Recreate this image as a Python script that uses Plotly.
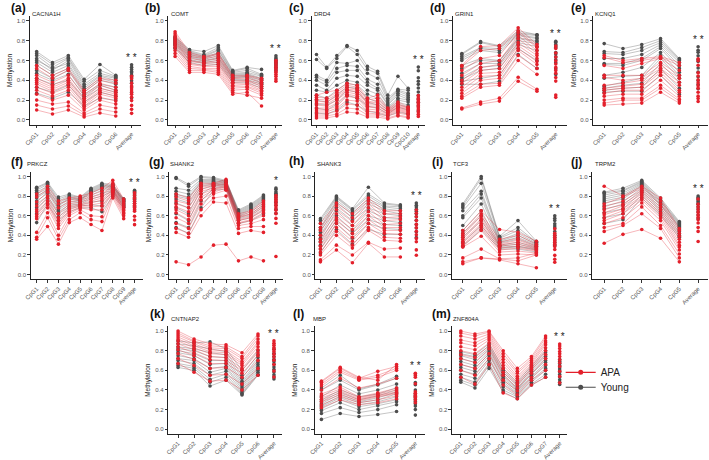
import plotly.graph_objects as go
import numpy as np

W, H = 709, 460

genes = ["CACNA1H", "COMT", "DRD4", "GRIN1", "KCNQ1", "PRKCZ", "SHANK2",
         "SHANK3", "TCF3", "TRPM2", "CNTNAP2", "MBP", "ZNF804A"]
letters = ["(a)", "(b)", "(c)", "(d)", "(e)", "(f)", "(g)", "(h)", "(i)",
           "(j)", "(k)", "(l)", "(m)"]
sig_marks = ["* *", "* *", "* *", "* *", "* *", "* *", "*", "* *", "* *",
             "* *", "* *", "* *", "* *"]
groups = ["APA", "Young"]

# ---------------- data (methylation per sample across CpG sites) ----------------
cacna1h_young = [
    [0.69, 0.58, 0.65, 0.41, 0.56, 0.45], [0.67, 0.56, 0.63, 0.39, 0.50, 0.44],
    [0.65, 0.53, 0.62, 0.36, 0.47, 0.43], [0.62, 0.50, 0.60, 0.34, 0.45, 0.42],
    [0.60, 0.52, 0.57, 0.32, 0.44, 0.40], [0.58, 0.48, 0.55, 0.30, 0.42, 0.38],
    [0.55, 0.45, 0.52, 0.28, 0.40, 0.36], [0.50, 0.42, 0.50, 0.26, 0.36, 0.33],
    [0.47, 0.40, 0.46, 0.24, 0.35, 0.30], [0.42, 0.36, 0.40, 0.22, 0.32, 0.28],
    [0.33, 0.28, 0.35, 0.18, 0.28, 0.24], [0.27, 0.22, 0.28, 0.14, 0.22, 0.20]]
cacna1h_apa = [
    [0.55, 0.45, 0.52, 0.30, 0.42, 0.40], [0.52, 0.42, 0.50, 0.28, 0.40, 0.37],
    [0.45, 0.38, 0.45, 0.25, 0.37, 0.33], [0.42, 0.35, 0.42, 0.22, 0.35, 0.30],
    [0.40, 0.33, 0.40, 0.20, 0.32, 0.28], [0.38, 0.31, 0.38, 0.18, 0.30, 0.26],
    [0.36, 0.29, 0.36, 0.16, 0.28, 0.24], [0.33, 0.27, 0.33, 0.14, 0.26, 0.22],
    [0.30, 0.24, 0.30, 0.12, 0.23, 0.19], [0.26, 0.20, 0.25, 0.10, 0.20, 0.16],
    [0.20, 0.16, 0.18, 0.07, 0.15, 0.12], [0.15, 0.11, 0.14, 0.05, 0.11, 0.08],
    [0.10, 0.06, 0.10, 0.03, 0.07, 0.04]]

comt_young = [
    [0.84, 0.71, 0.69, 0.75, 0.50, 0.53, 0.51], [0.83, 0.70, 0.66, 0.73, 0.49, 0.52, 0.46],
    [0.82, 0.69, 0.65, 0.71, 0.48, 0.50, 0.45], [0.81, 0.68, 0.64, 0.70, 0.47, 0.48, 0.44],
    [0.80, 0.67, 0.63, 0.68, 0.46, 0.47, 0.42], [0.79, 0.66, 0.62, 0.67, 0.45, 0.46, 0.41],
    [0.78, 0.65, 0.61, 0.65, 0.44, 0.45, 0.40], [0.77, 0.64, 0.60, 0.63, 0.43, 0.44, 0.38],
    [0.76, 0.63, 0.59, 0.62, 0.42, 0.43, 0.37], [0.75, 0.61, 0.58, 0.60, 0.41, 0.41, 0.36],
    [0.73, 0.60, 0.57, 0.58, 0.40, 0.40, 0.34], [0.72, 0.58, 0.55, 0.56, 0.38, 0.38, 0.32]]
comt_apa = [
    [0.89, 0.68, 0.64, 0.67, 0.45, 0.45, 0.42], [0.87, 0.66, 0.63, 0.66, 0.43, 0.44, 0.40],
    [0.85, 0.64, 0.62, 0.64, 0.42, 0.42, 0.38], [0.83, 0.62, 0.60, 0.62, 0.40, 0.40, 0.36],
    [0.81, 0.60, 0.58, 0.60, 0.38, 0.39, 0.34], [0.79, 0.59, 0.57, 0.58, 0.37, 0.37, 0.32],
    [0.77, 0.57, 0.55, 0.56, 0.35, 0.36, 0.30], [0.75, 0.56, 0.54, 0.54, 0.34, 0.34, 0.29],
    [0.73, 0.54, 0.52, 0.52, 0.32, 0.33, 0.27], [0.70, 0.52, 0.51, 0.50, 0.30, 0.31, 0.25],
    [0.67, 0.50, 0.50, 0.48, 0.28, 0.25, 0.22], [0.64, 0.48, 0.48, 0.46, 0.26, 0.28, 0.14]]

drd4_young = [
    [0.66, 0.53, 0.65, 0.75, 0.70, 0.54, 0.49, 0.25, 0.44, 0.32],
    [0.61, 0.52, 0.62, 0.74, 0.66, 0.51, 0.47, 0.22, 0.31, 0.30],
    [0.45, 0.40, 0.58, 0.57, 0.60, 0.47, 0.42, 0.20, 0.30, 0.27],
    [0.43, 0.38, 0.52, 0.55, 0.54, 0.41, 0.36, 0.18, 0.29, 0.25],
    [0.40, 0.35, 0.48, 0.50, 0.50, 0.38, 0.32, 0.16, 0.27, 0.23],
    [0.35, 0.30, 0.42, 0.45, 0.44, 0.35, 0.30, 0.15, 0.25, 0.21],
    [0.30, 0.28, 0.35, 0.40, 0.38, 0.30, 0.26, 0.13, 0.22, 0.20],
    [0.25, 0.22, 0.30, 0.37, 0.35, 0.26, 0.22, 0.12, 0.20, 0.18],
    [0.20, 0.18, 0.25, 0.33, 0.32, 0.22, 0.18, 0.10, 0.18, 0.15],
    [0.16, 0.15, 0.20, 0.30, 0.28, 0.18, 0.15, 0.08, 0.16, 0.13],
    [0.12, 0.10, 0.16, 0.25, 0.22, 0.14, 0.12, 0.06, 0.13, 0.10],
    [0.07, 0.06, 0.10, 0.18, 0.15, 0.09, 0.07, 0.04, 0.08, 0.06]]
drd4_apa = [
    [0.25, 0.28, 0.30, 0.37, 0.35, 0.22, 0.25, 0.12, 0.18, 0.13],
    [0.23, 0.22, 0.28, 0.35, 0.33, 0.20, 0.22, 0.11, 0.16, 0.12],
    [0.21, 0.20, 0.26, 0.33, 0.31, 0.18, 0.20, 0.10, 0.15, 0.12],
    [0.19, 0.18, 0.24, 0.31, 0.30, 0.17, 0.18, 0.09, 0.14, 0.11],
    [0.17, 0.16, 0.22, 0.30, 0.28, 0.16, 0.16, 0.08, 0.13, 0.10],
    [0.15, 0.14, 0.20, 0.28, 0.26, 0.14, 0.14, 0.08, 0.12, 0.09],
    [0.12, 0.12, 0.17, 0.26, 0.24, 0.13, 0.12, 0.07, 0.11, 0.08],
    [0.10, 0.10, 0.14, 0.24, 0.22, 0.11, 0.10, 0.06, 0.10, 0.07],
    [0.08, 0.08, 0.12, 0.20, 0.19, 0.09, 0.08, 0.05, 0.09, 0.06],
    [0.06, 0.06, 0.09, 0.16, 0.15, 0.07, 0.06, 0.04, 0.07, 0.05],
    [0.04, 0.04, 0.06, 0.12, 0.11, 0.05, 0.05, 0.02, 0.05, 0.03],
    [0.02, 0.02, 0.04, 0.08, 0.07, 0.03, 0.03, 0.01, 0.04, 0.02]]

grin1_young = [
    [0.67, 0.79, 0.75, 0.90, 0.86], [0.66, 0.78, 0.74, 0.88, 0.86], [0.64, 0.73, 0.72, 0.87, 0.85],
    [0.62, 0.72, 0.70, 0.86, 0.83], [0.60, 0.70, 0.68, 0.85, 0.82], [0.55, 0.62, 0.60, 0.83, 0.80],
    [0.52, 0.60, 0.59, 0.82, 0.79], [0.47, 0.57, 0.57, 0.80, 0.77], [0.43, 0.53, 0.55, 0.78, 0.74],
    [0.41, 0.50, 0.52, 0.76, 0.70], [0.39, 0.42, 0.45, 0.72, 0.60], [0.36, 0.36, 0.39, 0.66, 0.52]]
grin1_apa = [
    [0.55, 0.74, 0.75, 0.93, 0.76], [0.54, 0.70, 0.72, 0.90, 0.74], [0.50, 0.62, 0.65, 0.88, 0.73],
    [0.45, 0.57, 0.60, 0.85, 0.70], [0.40, 0.53, 0.56, 0.82, 0.67], [0.37, 0.50, 0.52, 0.78, 0.65],
    [0.33, 0.47, 0.48, 0.75, 0.62], [0.30, 0.44, 0.45, 0.72, 0.59], [0.27, 0.40, 0.42, 0.70, 0.56],
    [0.24, 0.36, 0.37, 0.65, 0.52], [0.22, 0.33, 0.35, 0.60, 0.46], [0.12, 0.18, 0.22, 0.43, 0.31],
    [0.11, 0.16, 0.19, 0.39, 0.29]]

kcnq1_young = [
    [0.77, 0.72, 0.76, 0.82, 0.62], [0.69, 0.68, 0.73, 0.80, 0.61], [0.67, 0.66, 0.70, 0.78, 0.60],
    [0.62, 0.62, 0.66, 0.76, 0.58], [0.57, 0.57, 0.62, 0.74, 0.55], [0.56, 0.55, 0.60, 0.72, 0.52],
    [0.45, 0.48, 0.53, 0.68, 0.48], [0.42, 0.44, 0.45, 0.65, 0.45], [0.34, 0.38, 0.42, 0.62, 0.42],
    [0.32, 0.35, 0.37, 0.57, 0.38], [0.30, 0.32, 0.33, 0.52, 0.32], [0.28, 0.29, 0.29, 0.45, 0.26]]
kcnq1_apa = [
    [0.65, 0.60, 0.62, 0.64, 0.58], [0.63, 0.58, 0.60, 0.63, 0.55], [0.55, 0.52, 0.57, 0.62, 0.50],
    [0.45, 0.45, 0.45, 0.58, 0.45], [0.43, 0.40, 0.42, 0.55, 0.42], [0.35, 0.37, 0.40, 0.52, 0.38],
    [0.32, 0.34, 0.36, 0.50, 0.35], [0.30, 0.32, 0.33, 0.48, 0.30], [0.27, 0.30, 0.30, 0.45, 0.28],
    [0.24, 0.26, 0.26, 0.40, 0.24], [0.20, 0.22, 0.22, 0.35, 0.21], [0.17, 0.20, 0.20, 0.32, 0.19],
    [0.15, 0.16, 0.17, 0.28, 0.17]]

prkcz_young = [
    [0.89, 0.94, 0.79, 0.82, 0.79, 0.88, 0.93, 0.92, 0.77],
    [0.88, 0.93, 0.77, 0.81, 0.78, 0.87, 0.92, 0.91, 0.77],
    [0.86, 0.92, 0.75, 0.80, 0.77, 0.86, 0.91, 0.90, 0.76],
    [0.84, 0.90, 0.73, 0.79, 0.76, 0.85, 0.90, 0.90, 0.75],
    [0.82, 0.88, 0.71, 0.78, 0.76, 0.84, 0.89, 0.89, 0.75],
    [0.80, 0.86, 0.70, 0.77, 0.75, 0.83, 0.88, 0.88, 0.74],
    [0.78, 0.85, 0.68, 0.75, 0.74, 0.81, 0.86, 0.87, 0.73],
    [0.75, 0.83, 0.66, 0.73, 0.73, 0.79, 0.83, 0.86, 0.72],
    [0.72, 0.80, 0.64, 0.71, 0.72, 0.77, 0.80, 0.85, 0.71],
    [0.68, 0.78, 0.62, 0.69, 0.71, 0.74, 0.75, 0.84, 0.70],
    [0.62, 0.75, 0.59, 0.67, 0.70, 0.71, 0.70, 0.82, 0.69],
    [0.53, 0.72, 0.55, 0.64, 0.68, 0.68, 0.64, 0.80, 0.68]]
prkcz_apa = [
    [0.82, 0.90, 0.75, 0.78, 0.80, 0.83, 0.88, 0.96, 0.77],
    [0.79, 0.87, 0.72, 0.76, 0.78, 0.81, 0.85, 0.93, 0.75],
    [0.74, 0.84, 0.68, 0.74, 0.76, 0.79, 0.82, 0.91, 0.73],
    [0.70, 0.80, 0.62, 0.72, 0.74, 0.77, 0.80, 0.90, 0.71],
    [0.66, 0.78, 0.58, 0.70, 0.72, 0.75, 0.78, 0.88, 0.69],
    [0.64, 0.75, 0.55, 0.68, 0.71, 0.73, 0.76, 0.87, 0.68],
    [0.61, 0.73, 0.52, 0.66, 0.70, 0.71, 0.73, 0.86, 0.66],
    [0.59, 0.71, 0.50, 0.64, 0.69, 0.69, 0.70, 0.85, 0.65],
    [0.57, 0.68, 0.47, 0.62, 0.68, 0.66, 0.66, 0.84, 0.63],
    [0.43, 0.63, 0.40, 0.60, 0.66, 0.60, 0.59, 0.82, 0.62],
    [0.38, 0.58, 0.36, 0.56, 0.63, 0.56, 0.54, 0.80, 0.60],
    [0.36, 0.49, 0.31, 0.53, 0.58, 0.51, 0.45, 0.78, 0.57]]

shank2_young = [
    [0.99, 0.92, 1.00, 0.99, 0.96, 0.66, 0.72, 0.81],
    [0.98, 0.90, 0.99, 0.98, 0.95, 0.65, 0.71, 0.80],
    [0.88, 0.86, 0.97, 0.97, 0.95, 0.64, 0.70, 0.79],
    [0.85, 0.82, 0.96, 0.96, 0.94, 0.63, 0.69, 0.78],
    [0.82, 0.79, 0.95, 0.95, 0.94, 0.62, 0.68, 0.77],
    [0.80, 0.77, 0.94, 0.94, 0.93, 0.61, 0.67, 0.76],
    [0.77, 0.73, 0.92, 0.93, 0.92, 0.60, 0.66, 0.75],
    [0.73, 0.68, 0.90, 0.92, 0.92, 0.59, 0.64, 0.73],
    [0.68, 0.62, 0.87, 0.91, 0.91, 0.58, 0.62, 0.71],
    [0.62, 0.55, 0.82, 0.90, 0.90, 0.57, 0.60, 0.69],
    [0.53, 0.48, 0.75, 0.88, 0.89, 0.55, 0.58, 0.66],
    [0.48, 0.42, 0.68, 0.86, 0.87, 0.52, 0.55, 0.62]]
shank2_apa = [
    [0.82, 0.78, 0.93, 0.93, 0.97, 0.62, 0.65, 0.75],
    [0.79, 0.75, 0.91, 0.92, 0.95, 0.60, 0.64, 0.73],
    [0.75, 0.72, 0.89, 0.91, 0.93, 0.59, 0.62, 0.71],
    [0.72, 0.68, 0.87, 0.90, 0.92, 0.58, 0.61, 0.69],
    [0.69, 0.64, 0.85, 0.88, 0.91, 0.56, 0.59, 0.67],
    [0.66, 0.60, 0.82, 0.87, 0.90, 0.55, 0.58, 0.65],
    [0.63, 0.56, 0.79, 0.86, 0.89, 0.53, 0.56, 0.63],
    [0.58, 0.52, 0.76, 0.84, 0.88, 0.52, 0.55, 0.60],
    [0.52, 0.47, 0.72, 0.82, 0.86, 0.50, 0.52, 0.56],
    [0.47, 0.42, 0.66, 0.78, 0.80, 0.47, 0.49, 0.49],
    [0.43, 0.38, 0.60, 0.74, 0.73, 0.42, 0.45, 0.43],
    [0.13, 0.10, 0.18, 0.30, 0.31, 0.14, 0.18, 0.14]]

shank3_young = [
    [0.57, 0.80, 0.67, 0.89, 0.73, 0.71], [0.55, 0.79, 0.66, 0.82, 0.72, 0.70],
    [0.52, 0.78, 0.65, 0.80, 0.70, 0.69], [0.48, 0.76, 0.63, 0.77, 0.69, 0.67],
    [0.46, 0.74, 0.61, 0.75, 0.67, 0.65], [0.43, 0.72, 0.58, 0.72, 0.65, 0.62],
    [0.40, 0.68, 0.55, 0.68, 0.62, 0.60], [0.37, 0.65, 0.50, 0.65, 0.58, 0.57],
    [0.34, 0.60, 0.45, 0.60, 0.55, 0.53], [0.30, 0.56, 0.42, 0.56, 0.51, 0.50],
    [0.26, 0.52, 0.37, 0.52, 0.47, 0.46], [0.22, 0.46, 0.31, 0.46, 0.41, 0.41]]
shank3_apa = [
    [0.52, 0.73, 0.62, 0.78, 0.65, 0.65], [0.48, 0.70, 0.58, 0.75, 0.62, 0.62],
    [0.45, 0.66, 0.54, 0.72, 0.58, 0.59], [0.40, 0.62, 0.50, 0.68, 0.55, 0.56],
    [0.36, 0.58, 0.46, 0.64, 0.51, 0.52], [0.33, 0.55, 0.42, 0.60, 0.48, 0.48],
    [0.29, 0.52, 0.38, 0.56, 0.45, 0.45], [0.26, 0.48, 0.34, 0.52, 0.42, 0.41],
    [0.23, 0.44, 0.30, 0.48, 0.38, 0.37], [0.20, 0.40, 0.27, 0.45, 0.35, 0.34],
    [0.15, 0.30, 0.20, 0.33, 0.26, 0.27], [0.13, 0.25, 0.12, 0.32, 0.18, 0.18]]

tcf3_young = [
    [0.72, 1.00, 0.39, 0.55, 0.34], [0.70, 0.98, 0.38, 0.48, 0.33], [0.68, 0.93, 0.37, 0.45, 0.33],
    [0.65, 0.85, 0.35, 0.42, 0.32], [0.60, 0.82, 0.34, 0.40, 0.31], [0.58, 0.78, 0.33, 0.38, 0.30],
    [0.50, 0.72, 0.32, 0.36, 0.29], [0.45, 0.65, 0.30, 0.33, 0.28], [0.42, 0.60, 0.29, 0.31, 0.27],
    [0.38, 0.55, 0.28, 0.29, 0.26], [0.33, 0.50, 0.27, 0.28, 0.25], [0.29, 0.46, 0.26, 0.26, 0.23]]
tcf3_apa = [
    [0.45, 0.65, 0.46, 0.43, 0.34], [0.42, 0.62, 0.36, 0.40, 0.31], [0.40, 0.60, 0.33, 0.37, 0.29],
    [0.38, 0.57, 0.31, 0.35, 0.28], [0.36, 0.55, 0.30, 0.33, 0.27], [0.34, 0.52, 0.29, 0.31, 0.26],
    [0.32, 0.50, 0.27, 0.29, 0.25], [0.30, 0.48, 0.25, 0.27, 0.24], [0.29, 0.45, 0.23, 0.24, 0.22],
    [0.28, 0.39, 0.20, 0.21, 0.20], [0.17, 0.26, 0.16, 0.17, 0.22], [0.13, 0.17, 0.15, 0.11, 0.07],
    [0.11, 0.17, 0.16, 0.14, 0.20]]

trpm2_young = [
    [0.84, 0.88, 0.96, 0.78, 0.54], [0.83, 0.86, 0.95, 0.76, 0.53], [0.81, 0.85, 0.94, 0.75, 0.52],
    [0.79, 0.83, 0.93, 0.74, 0.51], [0.77, 0.81, 0.92, 0.72, 0.50], [0.75, 0.79, 0.91, 0.71, 0.49],
    [0.73, 0.77, 0.90, 0.70, 0.48], [0.70, 0.74, 0.88, 0.68, 0.46], [0.67, 0.71, 0.86, 0.66, 0.44],
    [0.63, 0.67, 0.84, 0.64, 0.42], [0.58, 0.62, 0.81, 0.62, 0.40], [0.52, 0.56, 0.78, 0.60, 0.38]]
trpm2_apa = [
    [0.90, 0.80, 0.90, 0.78, 0.47], [0.72, 0.79, 0.88, 0.75, 0.45], [0.69, 0.75, 0.86, 0.72, 0.42],
    [0.66, 0.72, 0.84, 0.69, 0.39], [0.63, 0.70, 0.82, 0.66, 0.36], [0.61, 0.67, 0.80, 0.63, 0.33],
    [0.58, 0.65, 0.78, 0.61, 0.30], [0.55, 0.62, 0.76, 0.58, 0.28], [0.52, 0.58, 0.73, 0.55, 0.25],
    [0.48, 0.52, 0.69, 0.50, 0.21], [0.44, 0.50, 0.62, 0.47, 0.17], [0.32, 0.41, 0.46, 0.37, 0.13]]

cntnap2_young = [
    [0.90, 0.88, 0.89, 0.82, 0.60, 0.80], [0.87, 0.85, 0.82, 0.79, 0.55, 0.76],
    [0.84, 0.82, 0.78, 0.76, 0.52, 0.73], [0.82, 0.80, 0.74, 0.73, 0.49, 0.70],
    [0.80, 0.77, 0.70, 0.70, 0.47, 0.68], [0.78, 0.75, 0.66, 0.67, 0.45, 0.66],
    [0.75, 0.72, 0.62, 0.64, 0.43, 0.64], [0.72, 0.70, 0.58, 0.62, 0.41, 0.62],
    [0.70, 0.67, 0.55, 0.59, 0.39, 0.60], [0.67, 0.64, 0.51, 0.56, 0.37, 0.58],
    [0.65, 0.62, 0.48, 0.53, 0.36, 0.56], [0.63, 0.60, 0.44, 0.50, 0.35, 0.55]]
cntnap2_apa = [
    [1.00, 0.92, 0.87, 0.86, 0.78, 0.97], [0.98, 0.90, 0.85, 0.84, 0.74, 0.95],
    [0.96, 0.89, 0.83, 0.82, 0.72, 0.92], [0.94, 0.87, 0.81, 0.80, 0.69, 0.89],
    [0.92, 0.85, 0.79, 0.78, 0.67, 0.87], [0.90, 0.83, 0.77, 0.76, 0.65, 0.84],
    [0.87, 0.81, 0.74, 0.73, 0.62, 0.81], [0.84, 0.78, 0.71, 0.70, 0.60, 0.78],
    [0.81, 0.75, 0.67, 0.67, 0.57, 0.75], [0.77, 0.71, 0.62, 0.63, 0.53, 0.70],
    [0.72, 0.65, 0.55, 0.56, 0.46, 0.62], [0.67, 0.58, 0.49, 0.50, 0.40, 0.55]]

mbp_young = [
    [0.42, 0.55, 0.41, 0.46, 0.54], [0.40, 0.50, 0.40, 0.45, 0.52], [0.33, 0.45, 0.36, 0.40, 0.46],
    [0.30, 0.40, 0.33, 0.36, 0.42], [0.28, 0.38, 0.30, 0.34, 0.40], [0.26, 0.36, 0.28, 0.32, 0.38],
    [0.24, 0.34, 0.27, 0.30, 0.36], [0.23, 0.32, 0.25, 0.28, 0.33], [0.21, 0.30, 0.23, 0.26, 0.30],
    [0.19, 0.27, 0.20, 0.24, 0.28], [0.16, 0.22, 0.17, 0.20, 0.25], [0.10, 0.16, 0.13, 0.15, 0.18]]
mbp_apa = [
    [0.49, 0.63, 0.53, 0.50, 0.66], [0.48, 0.62, 0.52, 0.59, 0.64], [0.46, 0.60, 0.51, 0.55, 0.62],
    [0.44, 0.58, 0.50, 0.53, 0.60], [0.40, 0.52, 0.42, 0.46, 0.52], [0.36, 0.43, 0.33, 0.37, 0.42],
    [0.34, 0.41, 0.32, 0.36, 0.40], [0.32, 0.39, 0.31, 0.35, 0.38], [0.30, 0.37, 0.30, 0.34, 0.37],
    [0.28, 0.35, 0.29, 0.33, 0.36], [0.25, 0.33, 0.27, 0.30, 0.34], [0.22, 0.30, 0.25, 0.27, 0.31]]

znf804a_young = [
    [0.79, 0.76, 0.87, 0.62, 0.48, 0.65, 0.80], [0.77, 0.74, 0.85, 0.60, 0.46, 0.63, 0.78],
    [0.75, 0.71, 0.83, 0.58, 0.44, 0.61, 0.76], [0.72, 0.68, 0.81, 0.56, 0.42, 0.59, 0.74],
    [0.69, 0.65, 0.79, 0.54, 0.41, 0.57, 0.72], [0.66, 0.62, 0.77, 0.52, 0.40, 0.56, 0.70],
    [0.63, 0.59, 0.75, 0.50, 0.39, 0.54, 0.68], [0.60, 0.56, 0.72, 0.48, 0.37, 0.52, 0.65],
    [0.56, 0.52, 0.70, 0.46, 0.36, 0.50, 0.62], [0.53, 0.48, 0.67, 0.43, 0.34, 0.48, 0.60],
    [0.50, 0.45, 0.65, 0.40, 0.33, 0.46, 0.56], [0.48, 0.42, 0.62, 0.38, 0.31, 0.45, 0.53]]
znf804a_apa = [
    [1.00, 0.97, 1.00, 0.80, 0.62, 0.74, 0.95], [0.98, 0.95, 0.99, 0.77, 0.59, 0.72, 0.93],
    [0.95, 0.92, 0.97, 0.74, 0.57, 0.70, 0.90], [0.91, 0.88, 0.95, 0.71, 0.54, 0.68, 0.88],
    [0.88, 0.85, 0.93, 0.68, 0.52, 0.66, 0.86], [0.84, 0.81, 0.91, 0.65, 0.50, 0.64, 0.83],
    [0.80, 0.77, 0.88, 0.62, 0.47, 0.62, 0.80], [0.76, 0.73, 0.85, 0.58, 0.45, 0.60, 0.76],
    [0.72, 0.68, 0.82, 0.55, 0.42, 0.57, 0.72], [0.66, 0.62, 0.77, 0.50, 0.39, 0.53, 0.66],
    [0.60, 0.55, 0.72, 0.45, 0.35, 0.50, 0.60], [0.53, 0.46, 0.66, 0.37, 0.31, 0.45, 0.53]]

young_data = [cacna1h_young, comt_young, drd4_young, grin1_young, kcnq1_young,
              prkcz_young, shank2_young, shank3_young, tcf3_young, trpm2_young,
              cntnap2_young, mbp_young, znf804a_young]
apa_data = [cacna1h_apa, comt_apa, drd4_apa, grin1_apa, kcnq1_apa,
            prkcz_apa, shank2_apa, shank3_apa, tcf3_apa, trpm2_apa,
            cntnap2_apa, mbp_apa, znf804a_apa]
y_ticks = [0.0, 0.2, 0.4, 0.6, 0.8, 1.0]
y_tick_labels = ["0.0", "0.2", "0.4", "0.6", "0.8", "1.0"]

# ---------------- geometry (pixels) ----------------
# (axis left, first CpG, Average, right end)
xgeom = [(22, 29, 125, 135), (162, 169, 271, 277), (307, 312, 415, 422),
         (450, 459, 554, 565), (592, 603, 698, 708),
         (23, 29, 128, 137), (163, 170, 271, 278), (311, 316, 413, 422),
         (449, 460, 553, 565), (591, 603, 698, 708),
         (162, 172, 269, 277), (310, 317, 412, 422), (449, 458, 558, 565)]
rows = [0, 0, 0, 0, 0, 1, 1, 1, 1, 1, 2, 2, 2]
row_y = [(21, 121), (178, 277), (334, 433)]  # pixel y of value 1.0 and 0.0
# (letter x, letter centre y, gene x, gene y)
label_pos = [(1, 8, 22, 14), (137, 8, 163, 14), (282, 8, 307, 14),
             (425, 8, 450, 14), (567, 8, 592, 14),
             (1, 163, 17, 165), (141, 163, 162, 165), (282, 162, 311, 165),
             (427, 163, 448, 165), (567, 163, 592, 165),
             (142, 317, 163, 322), (286, 317, 306, 322), (427, 317, 448, 322)]


def px(xp):
    return xp / W


def py(yp):
    return 1 - yp / H


RED = "#E3202B"
GRAY = "#4D4D4D"
RED_LINE = "rgba(227,32,43,0.55)"
GRAY_LINE = "rgba(77,77,77,0.55)"
FONT = "Liberation Sans, Arial, sans-serif"

fig = go.Figure()
annotations = []
layout_axes = {}

for i, gene in enumerate(genes):
    n = len(young_data[i][0])
    cats = [f"CpG{k+1}" for k in range(n)] + ["Average"]
    xa = "x" if i == 0 else f"x{i+1}"
    ya = "y" if i == 0 else f"y{i+1}"
    avg_max = 0
    for grp, data, col, lcol in [("Young", young_data[i], GRAY, GRAY_LINE),
                                 ("APA", apa_data[i], RED, RED_LINE)]:
        xs, ys = [], []
        for s in data:
            xs += cats[:n] + [None]
            ys += list(s) + [None]
        fig.add_trace(go.Scatter(
            x=xs, y=ys, mode="lines+markers", xaxis=xa, yaxis=ya,
            line=dict(color=lcol, width=0.6),
            marker=dict(color=col, size=3.6, line=dict(width=0)),
            showlegend=False, hoverinfo="skip"))
        means = [float(np.mean(s)) for s in data]
        avg_max = max(avg_max, max(means))
        fig.add_trace(go.Scatter(
            x=["Average"] * len(means), y=means, mode="markers", xaxis=xa, yaxis=ya,
            marker=dict(color=col, size=3.6, line=dict(width=0)),
            showlegend=False, hoverinfo="skip"))

    left, c1, cav, right = xgeom[i]
    unit = (cav - c1) / n
    r_lo = -(c1 - left) / unit
    r_hi = n + (right - cav) / unit
    y1, y0 = row_y[rows[i]]
    span = y0 - y1
    top = y1 - 0.05 * span
    bot = y0 + 0.05 * span

    layout_axes["xaxis" if i == 0 else f"xaxis{i+1}"] = dict(
        domain=[px(left), px(right)], anchor=ya, type="category",
        categoryorder="array", categoryarray=cats, range=[r_lo, r_hi],
        showline=True, linecolor="#222", linewidth=0.9, ticks="outside",
        ticklen=2.5, tickwidth=0.8, tickcolor="#333", tickangle=-45,
        tickfont=dict(size=6, color="#555", family=FONT),
        showgrid=False, zeroline=False, fixedrange=True)
    layout_axes["yaxis" if i == 0 else f"yaxis{i+1}"] = dict(
        domain=[py(bot), py(top)], anchor=xa, range=[-0.05, 1.05],
        tickvals=y_ticks, ticktext=y_tick_labels,
        showline=True, linecolor="#222", linewidth=0.9, ticks="outside",
        ticklen=2.5, tickwidth=0.8, tickcolor="#333",
        tickfont=dict(size=6, color="#555", family=FONT),
        title=dict(text="Methylation", font=dict(size=6.5, color="#222", family=FONT),
                   standoff=3),
        showgrid=False, zeroline=False, fixedrange=True)

    # significance marks above the Average column
    annotations.append(dict(x=n, y=avg_max + 0.075, xref=xa, yref=ya,
                            text=sig_marks[i], showarrow=False,
                            font=dict(size=10, color="#222", family=FONT),
                            xanchor="center", yanchor="middle"))
    lx, ly, gx, gy = label_pos[i]
    annotations.append(dict(x=px(lx), y=py(ly), xref="paper", yref="paper",
                            text=f"<b>{letters[i]}</b>", showarrow=False,
                            font=dict(size=12, color="#111", family=FONT),
                            xanchor="left", yanchor="middle"))
    annotations.append(dict(x=px(gx), y=py(gy), xref="paper", yref="paper",
                            text=gene, showarrow=False,
                            font=dict(size=6, color="#222", family=FONT),
                            xanchor="left", yanchor="middle"))

# legend entries (one legend box per group so the spacing matches)
for grp, col, leg in [("APA", RED, "legend"), ("Young", GRAY, "legend2")]:
    fig.add_trace(go.Scatter(
        x=[None], y=[None], mode="lines+markers", name=grp, legend=leg,
        line=dict(color=col, width=1.2), marker=dict(color=col, size=5),
        showlegend=True, hoverinfo="skip"))

legend_common = dict(xanchor="left", yanchor="top",
                     font=dict(size=10, color="#222", family=FONT),
                     bgcolor="rgba(0,0,0,0)", itemwidth=30)

fig.update_layout(
    width=W, height=H, margin=dict(l=0, r=0, t=0, b=0),
    paper_bgcolor="white", plot_bgcolor="white",
    font=dict(family=FONT),
    annotations=annotations,
    legend=dict(x=px(559), y=py(361), **legend_common),
    legend2=dict(x=px(559), y=py(376), **legend_common),
    **layout_axes)

# let the 709x460 figure fill the window exactly (no default page margin)
fig.write_html("out.html", config={"displayModeBar": False},
               post_script="document.body.style.margin='0px';")
